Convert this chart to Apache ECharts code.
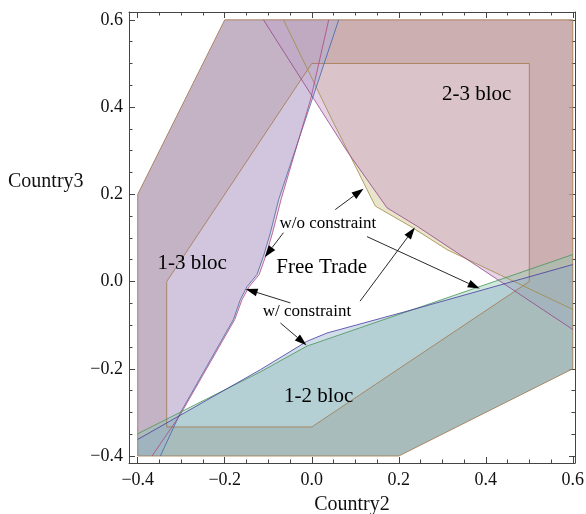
<!DOCTYPE html>
<html><head><meta charset="utf-8">
<script src="https://cdn.jsdelivr.net/npm/echarts@6/dist/echarts.min.js"></script>
<style>html,body{margin:0;padding:0;background:#fff}#c{width:586px;height:514px}</style>
</head><body><div id="c"></div>
<script>
// ---- data (Country2, Country3) ----
const xMin = -0.42, xMax = 0.605, yMin = -0.416, yMax = 0.618;
const majorTicks = [-0.4, -0.2, 0, 0.2, 0.4, 0.6];
const minorTicks = [-0.35,-0.3,-0.25,-0.15,-0.1,-0.05,0.05,0.1,0.15,0.25,0.3,0.35,0.45,0.5,0.55];

const hexOuter = [[-0.4,-0.4],[0.2,-0.4],[0.6,-0.2],[0.6,0.6],[-0.2,0.6],[-0.4,0.2]];
const hexInner = [[-1/3,-1/3],[0,-1/3],[0.5,0],[0.5,0.5],[0,0.5],[-1/3,0]];

// 2-3 bloc boundaries
const bloc23A = [[-0.111,0.6],[0.004,0.42],[0.081,0.299],[0.173,0.169],[0.242,0.127],[0.6,-0.11]];
const bloc23B = [[-0.065,0.6],[0.046,0.372],[0.089,0.287],[0.146,0.173],[0.226,0.127],[0.311,0.073],[0.6,-0.064]];
const close23 = [[0.6,0.6]];
// 1-3 bloc boundaries
const bloc13A = [[0.062,0.6],[-0.076,0.188],[-0.095,0.112],[-0.111,0.058],[-0.126,0.016],[-0.149,-0.012],[-0.164,-0.041],[-0.18,-0.087],[-0.302,-0.301],[-0.348,-0.4]];
const bloc13B = [[0.039,0.6],[-0.002,0.42],[-0.07,0.19],[-0.09,0.112],[-0.106,0.058],[-0.121,0.016],[-0.144,-0.012],[-0.16,-0.041],[-0.177,-0.087],[-0.302,-0.305],[-0.367,-0.4]];
const close13 = [[-0.4,-0.4],[-0.4,0.2],[-0.2,0.6]];
// 1-2 bloc boundaries
const bloc12A = [[-0.4,-0.362],[-0.118,-0.202],[-0.011,-0.137],[0.035,-0.118],[0.226,-0.066],[0.6,0.039]];
const bloc12B = [[-0.4,-0.349],[-0.118,-0.207],[-0.011,-0.148],[0.6,0.062]];
const close12 = [[0.6,-0.2],[0.2,-0.4],[-0.4,-0.4]];

// annotations
const labelPos = [[0.379,0.428],[-0.275,0.041],[0.023,0.032],[0.016,-0.264],[0.037,0.134],[-0.011,-0.068]];
const labelText = ['2-3 bloc','1-3 bloc','Free Trade','1-2 bloc','w/o constraint','w/ constraint'];
const labelSize = [21,21,21,21,17,17];
const arrows = [
  [0.054,0.165, 0.119,0.213],
  [-0.065,0.112, -0.108,0.056],
  [0.127,0.103, 0.386,-0.016],
  [-0.049,-0.049, -0.152,-0.017],
  [-0.072,-0.095, -0.012,-0.146],
  [0.111,-0.045, 0.237,0.124]
];

// ---- rendering ----
const FONT = '"Liberation Serif","Times New Roman",serif';
function polySeries(pts, fill) {
  return {
    type: 'custom', data: pts, silent: true, animation: false, clip: true,
    renderItem: function (params, api) {
      if (params.dataIndex !== 0) return null;
      const points = pts.map(p => api.coord(p));
      return { type: 'polygon', shape: { points: points }, style: { fill: fill, stroke: 'none', lineWidth: 0 } };
    }
  };
}
function lineSeries(pts, stroke, lw, closed) {
  return {
    type: 'custom', data: pts, silent: true, animation: false, clip: true,
    renderItem: function (params, api) {
      if (params.dataIndex !== 0) return null;
      const points = pts.map(p => api.coord(p));
      return { type: closed ? 'polygon' : 'polyline', shape: { points: points },
        style: { fill: 'none', stroke: stroke, lineWidth: lw } };
    }
  };
}
const band = hexOuter.concat([hexOuter[0], hexInner[0]], hexInner.slice(1).reverse(), [hexInner[0]]);

const series = [
  polySeries(band, 'rgba(168,125,95,0.42)'),
  polySeries(bloc23B.concat(close23), 'rgba(200,190,130,0.4)'),
  polySeries(bloc23A.concat(close23), 'rgba(195,145,195,0.4)'),
  polySeries(bloc13A.concat(close13), 'rgba(170,175,220,0.45)'),
  polySeries(bloc13B.concat(close13), 'rgba(195,160,190,0.35)'),
  polySeries(bloc12B.concat(close12), 'rgba(140,200,170,0.4)'),
  polySeries(bloc12A.concat(close12), 'rgba(140,170,200,0.4)'),
  lineSeries(hexOuter, 'rgba(160,115,70,0.75)', 1, true),
  lineSeries(hexInner, 'rgba(160,115,70,0.75)', 1, true),
  lineSeries(bloc23B, 'rgba(160,140,70,0.8)', 1),
  lineSeries(bloc23A, 'rgba(150,70,140,0.8)', 1),
  lineSeries(bloc13A, 'rgba(70,100,170,0.8)', 1),
  lineSeries(bloc13B, 'rgba(175,70,125,0.8)', 1),
  lineSeries(bloc12B, 'rgba(70,150,90,0.8)', 1),
  lineSeries(bloc12A, 'rgba(70,60,160,0.8)', 1),
  {
    type: 'custom', data: arrows, silent: true, animation: false,
    renderItem: function (params, api) {
      const a = arrows[params.dataIndex];
      const p1 = api.coord([a[0], a[1]]), p2 = api.coord([a[2], a[3]]);
      const dx = p2[0]-p1[0], dy = p2[1]-p1[1], L = Math.hypot(dx, dy);
      const ux = dx/L, uy = dy/L, hl = 12, hw = 4;
      const bx = p2[0]-ux*hl, by = p2[1]-uy*hl;
      return { type: 'group', children: [
        { type: 'line', shape: { x1: p1[0], y1: p1[1], x2: bx, y2: by }, style: { stroke: '#111', lineWidth: 0.9 } },
        { type: 'polygon', shape: { points: [p2, [bx - uy*hw, by + ux*hw], [bx + uy*hw, by - ux*hw]] }, style: { fill: '#000' } }
      ]};
    }
  },
  {
    type: 'custom', data: labelPos, silent: true, animation: false,
    renderItem: function (params, api) {
      const p = api.coord(labelPos[params.dataIndex]);
      return { type: 'text', x: p[0], y: p[1],
        style: { text: labelText[params.dataIndex], fontSize: labelSize[params.dataIndex], fontFamily: FONT,
          fill: '#000', align: 'center', verticalAlign: 'middle' } };
    }
  }
];

const frame = { show: true, onZero: false, lineStyle: { color: '#444', width: 1 } };
const fmt = v => (v < -1e-9 ? '\u2212' : '') + Math.abs(v).toFixed(1);
function axis(dir, pos, isMajor, withLabels) {
  const isX = dir === 'x';
  const o = {
    type: 'value', position: pos,
    min: isX ? xMin : yMin, max: isX ? xMax : yMax,
    axisLine: isMajor ? frame : { show: false, onZero: false },
    axisTick: { show: true, inside: true, length: isMajor ? 6 : 3.5,
      customValues: isMajor ? majorTicks : minorTicks, lineStyle: { color: '#444', width: 1 } },
    axisLabel: withLabels ? { show: true, customValues: majorTicks, formatter: fmt,
      fontFamily: FONT, fontSize: 18, color: '#111', margin: isX ? 8 : 6 } : { show: false },
    splitLine: { show: false }
  };
  if (withLabels && isX) {
    o.name = 'Country2'; o.nameLocation = 'middle'; o.nameGap = 32;
    o.nameTextStyle = { fontFamily: FONT, fontSize: 20, color: '#111' };
  }
  return o;
}

const chart = echarts.init(document.getElementById('c'), null, { renderer: 'canvas' });
chart.setOption({
  animation: false,
  backgroundColor: '#fff',
  grid: { left: 129, top: 12, width: 446, height: 451, containLabel: false, outerBoundsMode: 'none' },
  xAxis: [axis('x','bottom',true,true), axis('x','bottom',false,false), axis('x','top',true,false), axis('x','top',false,false)],
  yAxis: [axis('y','left',true,true), axis('y','left',false,false), axis('y','right',true,false), axis('y','right',false,false)],
  graphic: [{ type: 'text', left: 8, top: 172, style: { text: 'Country3', fontFamily: FONT, fontSize: 20, fill: '#111' } }],
  series: series
});
</script>
</body></html>
